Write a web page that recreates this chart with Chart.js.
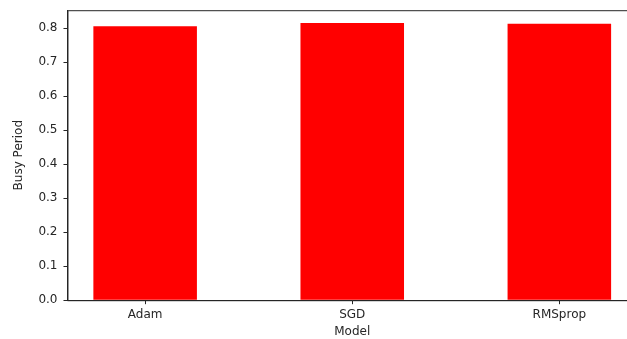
<!DOCTYPE html>
<html>
<head>
<meta charset="utf-8">
<script src="https://cdn.jsdelivr.net/npm/chart.js@4/dist/chart.umd.min.js"></script>
<style>
  html, body { margin: 0; padding: 0; background: #fff; overflow: hidden; }
  #wrap { width: 650px; height: 342px; margin-top: -3px; }
</style>
</head>
<body>
<div id="wrap"><canvas id="chartBusy"></canvas></div>
<script>
// data
const models = ['Adam', 'SGD', 'RMSprop'];
const busyPeriod = [0.806, 0.815, 0.813];
const yTicks = [0.0, 0.1, 0.2, 0.3, 0.4, 0.5, 0.6, 0.7, 0.8];

const textColor = '#262626';
Chart.defaults.font.family = 'DejaVu Sans';
Chart.defaults.font.size = 12;
Chart.defaults.color = textColor;

// draw the full box like matplotlib spines
const boxPlugin = {
    id: 'box',
    afterDraw(chart) {
        const a = chart.chartArea, ctx = chart.ctx;
        ctx.save();
        ctx.strokeStyle = textColor;
        ctx.lineWidth = 1;
        ctx.strokeRect(a.left + 0.5, a.top + 0.5, a.right - a.left, a.bottom - a.top);
        ctx.restore();
    }
};

const canvas = document.getElementById('chartBusy');

new Chart(canvas, {
    type: 'bar',
    data: {
        datasets: [{
            label: 'Busy Period',
            data: busyPeriod.map((v, i) => ({x: i, y: v})),
            backgroundColor: '#ff0000',
            borderWidth: 0,
            categoryPercentage: 1,
            barPercentage: 0.5
        }]
    },
    options: {
        responsive: true,
        maintainAspectRatio: false,
        animation: false,
        layout: {padding: {top: 2, right: 13, left: 12, bottom: 0}},
        plugins: {
            legend: {display: false},
            tooltip: {enabled: false}
        },
        scales: {
            x: {
                type: 'linear',
                offset: false,
                min: -0.375,
                max: 2.375,
                afterBuildTicks: s => { s.ticks = models.map((m, i) => ({value: i})); },
                ticks: {
                    callback: v => models[v],
                    padding: 3,
                    maxRotation: 0
                },
                grid: {offset: false, drawOnChartArea: false, drawTicks: true, tickLength: 4, color: textColor},
                border: {color: textColor},
                title: {display: true, text: 'Model', padding: {top: 0, bottom: 0}}
            },
            y: {
                min: 0,
                max: 0.853,
                afterBuildTicks: s => { s.ticks = yTicks.map(v => ({value: v})); },
                ticks: {
                    callback: v => v.toFixed(1),
                    padding: 6
                },
                grid: {drawOnChartArea: false, drawTicks: true, tickLength: 4, color: textColor},
                border: {color: textColor},
                title: {display: true, text: 'Busy Period', padding: {top: 0, bottom: 6}}
            }
        }
    },
    plugins: [boxPlugin]
});
</script>
</body>
</html>
